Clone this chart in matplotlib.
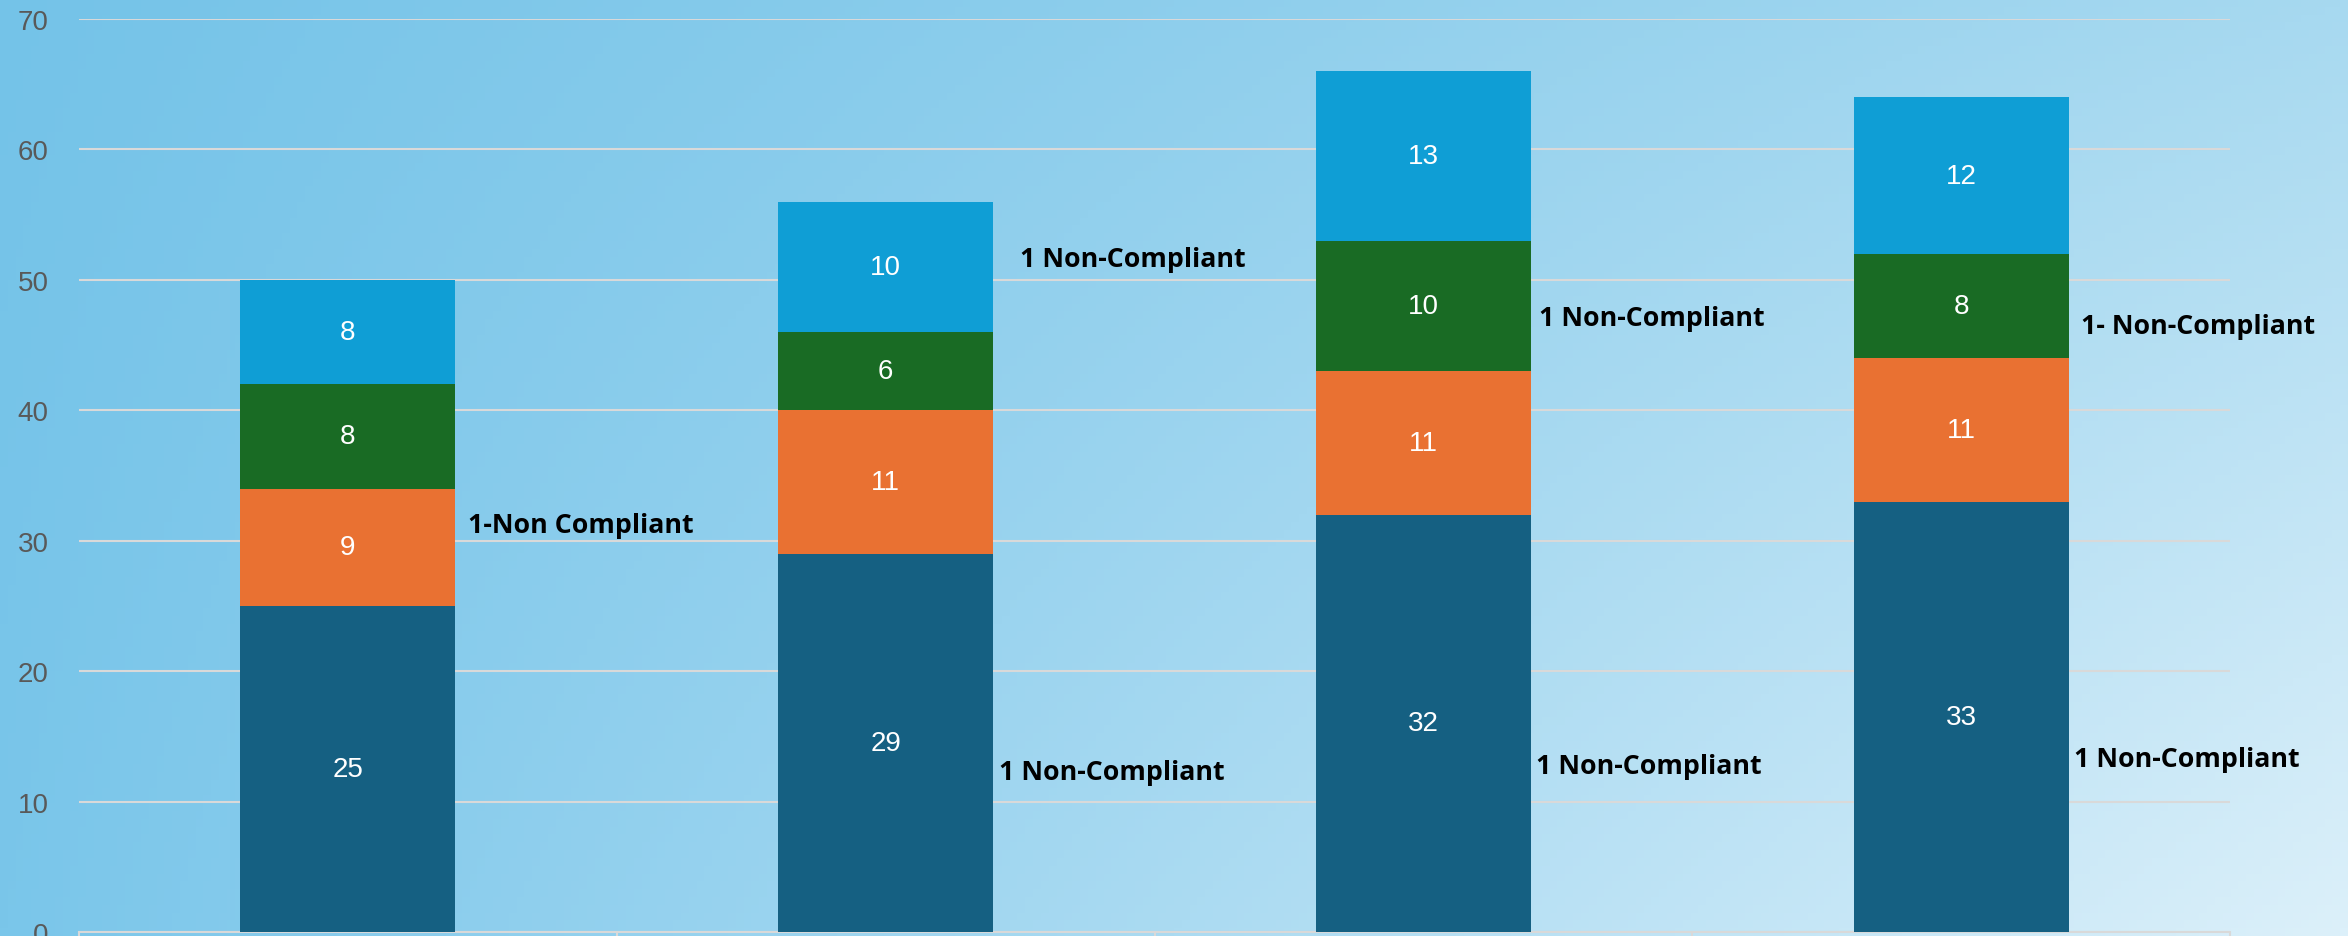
import matplotlib
matplotlib.use("Agg")
from matplotlib import pyplot as plt
import numpy as np

# Данные
categories = ["A", "B", "C", "D"]
seg_bottom = [25, 29, 32, 33]
seg_orange = [9, 11, 11, 11]
seg_green = [8, 6, 10, 8]
seg_top = [8, 10, 13, 12]
series = [seg_bottom, seg_orange, seg_green, seg_top]
colors = ["#156082", "#E97132", "#196B24", "#0F9ED5"]

# Подписи "Non-Compliant": (столбец, уровень, текст)
note_bar = [0, 1, 1, 2, 2, 3, 3]
note_y = [31.2, 51.6, 12.3, 47.1, 12.7, 46.5, 13.3]
note_text = ["1-Non Compliant", "1 Non-Compliant", "1 Non-Compliant", "1 Non-Compliant",
             "1 Non-Compliant", "1- Non-Compliant", "1 Non-Compliant"]
note_dx = [9, 19, 4, 6, 4, 9, 4]  # отступ от края столбца, pt

W, H = 2348, 937
fig = plt.figure(figsize=(W / 100, H / 100), dpi=100)

# Фон - градиент
bg = fig.add_axes([0, 0, 1, 1], zorder=-10)
c_tl = np.array([0x74, 0xc3, 0xe8]) / 255
c_tr = np.array([0xa7, 0xd9, 0xf0]) / 255
c_bl = np.array([0x7a, 0xc6, 0xea]) / 255
c_br = np.array([0xdc, 0xf0, 0xfa]) / 255
u = np.linspace(0, 1, 300)[None, :, None]
v = np.linspace(0, 1, 120)[:, None, None]
img = (c_tl * (1 - u) * (1 - v) + c_tr * u * (1 - v) + c_bl * (1 - u) * v + c_br * u * v)
bg.imshow(img, aspect="auto", extent=[0, 1, 0, 1], origin="upper")
bg.axis("off")

ax = fig.add_axes([79 / W, 4 / H, (2230 - 79) / W, (933 - 20) / H])
ax.set_facecolor("none")

x = np.arange(len(categories))
width = 0.4
bottom = np.zeros(len(categories))
for vals, col in zip(series, colors):
    bars = ax.bar(x, vals, width, bottom=bottom, color=col, zorder=3)
    ax.bar_label(bars, labels=[str(v) for v in vals], label_type="center",
                 color="white", fontsize=20, family="Liberation Sans", zorder=4)
    bottom += np.array(vals)

for i, yv, txt, dx in zip(note_bar, note_y, note_text, note_dx):
    ax.annotate(txt, (x[i] + width / 2, yv), xytext=(dx, 0), textcoords="offset points",
                ha="left", va="center", fontsize=19.3, fontweight="bold",
                family="Open Sans", color="black", zorder=5)

ax.set_ylim(0, 70)
ax.set_xlim(-0.5, len(categories) - 0.5)
ax.set_yticks(range(0, 71, 10))
ax.yaxis.grid(True, color="#d9d9d9", linewidth=1.5, zorder=0)
ax.tick_params(axis="y", length=0, pad=22, labelsize=20, labelcolor="#595959")
for lab in ax.get_yticklabels():
    lab.set_family("Liberation Sans")
ax.set_xticks(np.arange(-0.5, len(categories), 1.0))
ax.set_xticklabels([])
ax.tick_params(axis="x", length=12, width=1.5, color="#d9d9d9", direction="out")
for s in ["top", "right", "left"]:
    ax.spines[s].set_visible(False)
ax.spines["bottom"].set_color("#d9d9d9")
ax.spines["bottom"].set_linewidth(1.5)

fig.savefig("out.png", dpi=100)
